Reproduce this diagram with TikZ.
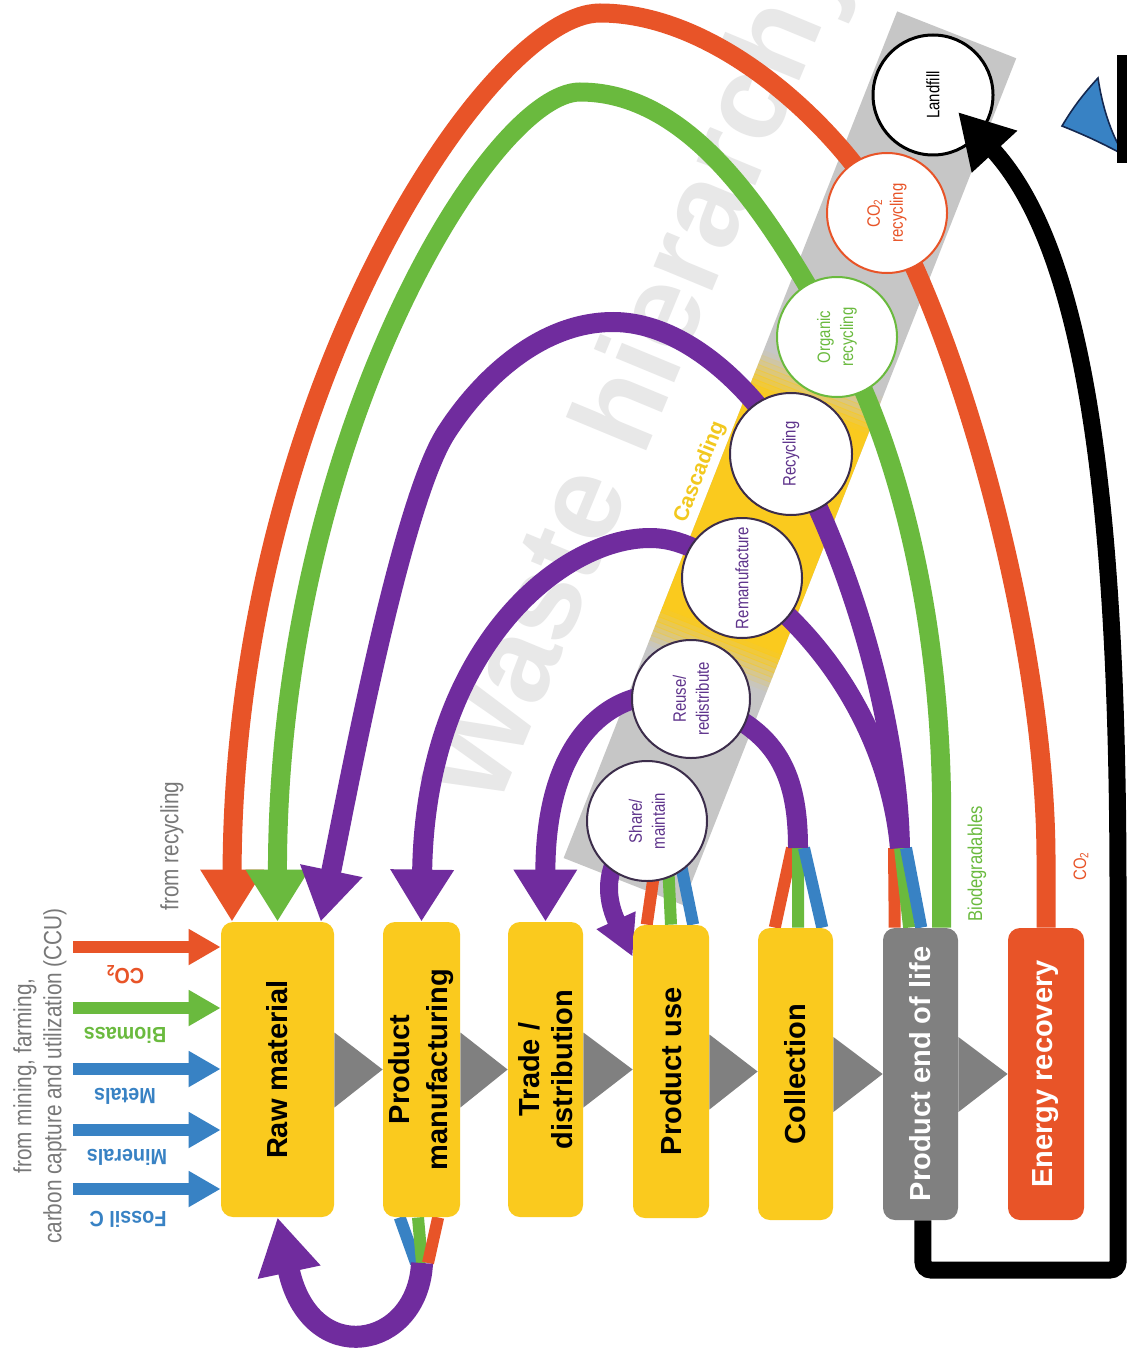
\documentclass[tikz,border=0pt]{standalone}
\usepackage{fontspec}
\setmainfont{Liberation Sans}
\newfontfamily\cond[FakeStretch=0.83]{Liberation Sans}
\newfontfamily\condb[FakeStretch=0.9]{Liberation Sans}
\usetikzlibrary{arrows.meta,calc}
\pgfdeclarelayer{back}
\pgfdeclarelayer{lines}
\pgfdeclarelayer{front}
\pgfsetlayers{back,lines,main,front}
\definecolor{cyel}{RGB}{250,202,30}
\definecolor{cred}{RGB}{232,84,40}
\definecolor{cgrn}{RGB}{106,186,62}
\definecolor{cblu}{RGB}{56,130,196}
\definecolor{cpur}{RGB}{112,44,158}
\definecolor{cgry}{RGB}{128,128,128}
\definecolor{cband}{RGB}{198,198,198}
\definecolor{ctxt}{RGB}{120,120,120}
\definecolor{cwm}{RGB}{232,232,232}
\definecolor{cptxt}{RGB}{95,52,140}
\definecolor{cdark}{RGB}{60,45,75}
\definecolor{cnavy}{RGB}{20,40,80}
\definecolor{ccasc}{RGB}{242,200,30}
\begin{document}
\begin{tikzpicture}[x=0.5pt,y=-0.5pt,
  boxbase/.style={rectangle, rounded corners=6pt, inner sep=0pt, draw=none},
  ybox/.style={boxbase, fill=cyel},
  blbl/.style={rotate=90, align=center, inner sep=0pt, font=\bfseries\fontsize{14.5}{17}\selectfont},
  circ/.style={circle, fill=white, draw=cdark, line width=1pt, inner sep=0pt, rotate=90, align=center, text=cptxt, font=\cond\fontsize{9}{11.5}\selectfont},
  arcln/.style={line width=9.5pt},
  bigtip/.style={-{Triangle[width=30pt,length=26pt]}},
  strand/.style={line width=6pt},
  inarr/.style={line width=6pt, -{Triangle[width=17pt,length=16pt]}},
  inlbl/.style={rotate=180, inner sep=0pt, font=\condb\bfseries\fontsize{11}{13}\selectfont},
  side/.style={rotate=90, inner sep=0pt, text=ctxt, align=center, font=\cond\fontsize{12.5}{15}\selectfont}
]
\useasboundingbox (0,0) rectangle (1127,1364);

% ---------- process boxes ----------
\node[ybox, minimum width=56.5pt, minimum height=147.5pt] (raw) at (277.5,1069.5) {};
\node[blbl] (rawt) at (raw.center) {Raw material};
\node[ybox, minimum width=38.5pt, minimum height=147.5pt] (pm) at (421.5,1069.5) {};
\node[blbl, font=\bfseries\fontsize{14.5}{19}\selectfont] (pmt) at (pm.center) {Product\\manufacturing};
\node[ybox, minimum width=37.5pt, minimum height=147.5pt] (trade) at (545.5,1069.5) {};
\node[blbl, font=\bfseries\fontsize{14.5}{16.5}\selectfont] (tradet) at (trade.center) {Trade /\\distribution};
\node[ybox, minimum width=38pt, minimum height=146.5pt] (use) at (671,1071.5) {};
\node[blbl] (uset) at (use.center) {Product use};
\node[ybox, minimum width=37.5pt, minimum height=146pt] (coll) at (795.5,1074) {};
\node[blbl] (collt) at (coll.center) {Collection};
\node[boxbase, fill=cgry, minimum width=37.5pt, minimum height=146pt] (eol) at (920.5,1074) {};
\node[blbl, text=white] (eolt) at (eol.center) {Product end of life};
\node[boxbase, fill=cred, minimum width=38pt, minimum height=146pt] (en) at (1046,1074) {};
\node[blbl, text=white] (ent) at (en.center) {Energy recovery};

% ---------- waste hierarchy circles ----------
\node[circ, minimum size=60pt] (share) at (647,821) {Share/\\maintain};
\node[circ, minimum size=59pt] (reuse) at (691,699) {Reuse/\\redistribute};
\node[circ, minimum size=60pt] (reman) at (742,578) {Remanufacture};
\node[circ, minimum size=61pt] (recyc) at (791,454) {Recycling};
\node[circ, minimum size=60pt, draw=cgrn, text=cgrn] (org) at (837,337) {Organic\\recycling};
\node[circ, minimum size=60pt, draw=cred, text=cred] (co2) at (887,213) {CO\textsubscript{2}\\recycling};
\node[circ, minimum size=60pt, draw=black, line width=1.5pt, text=black] (land) at (933,95) {Landfill};

% ---------- background: watermark and band ----------
\begin{pgfonlayer}{back}
\fill[white] (0,0) rectangle (1127,1364);
\node[rotate=67.5, anchor=west, text=cwm, inner sep=0pt, font=\bfseries\fontsize{60}{60}\selectfont] (wm) at (468,800) {Waste hierarchy};
\begin{scope}[shift={(647,821)}, rotate=68.5]
  \fill[cband] (-65,-64) rectangle (845,64);
  \fill[cyel] (204,-64) rectangle (441,64);
  \foreach \i [evaluate=\i as \op using (\i+0.5)/8] in {0,...,7} {
    \fill[cyel, opacity=\op] ({164+5*\i},-64) rectangle ({170+5*\i},64);
    \fill[cyel, opacity=\op] ({481-5*\i},-64) rectangle ({475-5*\i},64);
  }
\end{scope}
\node[rotate=68.5, text=ccasc, inner sep=0pt, font=\bfseries\fontsize{10.5}{12}\selectfont] (casc) at (700,472) {Cascading};
\end{pgfonlayer}

% ---------- flows ----------
\begin{pgfonlayer}{lines}
% grey process triangles
\fill[cgry] ($(raw.east)+(0,-37)$) -- ($(raw.east)+(0,38)$) -- (raw.east -| pm.west) -- cycle;
\fill[cgry] ($(pm.east)+(0,-37)$) -- ($(pm.east)+(0,38)$) -- (pm.east -| trade.west) -- cycle;
\fill[cgry] ($(trade.east)+(0,-37)$) -- ($(trade.east)+(0,38)$) -- (trade.east -| use.west) -- cycle;
\fill[cgry] ($(use.east)+(0,-37)$) -- ($(use.east)+(0,38)$) -- (use.east -| coll.west) -- cycle;
\fill[cgry] ($(coll.east)+(0,-37)$) -- ($(coll.east)+(0,38)$) -- (coll.east -| eol.west) -- cycle;
\fill[cgry] ($(eol.east)+(0,-37)$) -- ($(eol.east)+(0,38)$) -- (eol.east -| en.west) -- cycle;

\coordinate (mEol) at (900,848);
\coordinate (mColl) at (798,848);
\coordinate (mPm) at (422,1263);

% strands
\draw[strand, cred] (894,848) -- ($(eol.north west)!0.16!(eol.north east)$);
\draw[strand, cgrn] (900,848) -- ($(eol.north west)!0.35!(eol.north east)$);
\draw[strand, cblu] (906,848) -- ($(eol.north west)!0.51!(eol.north east)$);
\draw[strand, cred] (792,848) -- ($(coll.north west)!0.227!(coll.north east)$);
\draw[strand, cgrn] (798,848) -- ($(coll.north west)!0.533!(coll.north east)$);
\draw[strand, cblu] (804,848) -- ($(coll.north west)!0.853!(coll.north east)$);
\draw[strand, cred] (656,860) -- ($(use.north west)!0.184!(use.north east)$);
\draw[strand, cgrn] (668,862) -- ($(use.north west)!0.5!(use.north east)$);
\draw[strand, cblu] (680,860) -- ($(use.north west)!0.789!(use.north east)$);
\draw[strand, cblu] ($(pm.south west)!0.22!(pm.south east)$) -- (416,1263);
\draw[strand, cgrn] ($(pm.south west)!0.455!(pm.south east)$) -- (422,1263);
\draw[strand, cred] ($(pm.south west)!0.714!(pm.south east)$) -- (428,1263);

% big arcs
\draw[arcln, cred, bigtip] (en.north) -- (1046,860) .. controls (1046,640) and (960,340) .. (co2.center)
  .. controls (840,130) and (720,13) .. (600,13) .. controls (487,13) and (233,399) .. ($(raw.north west)!0.1!(raw.north east)$);
\draw[arcln, cgrn, bigtip] ($(eol.north west)!0.78!(eol.north east)$) -- ++(0,-108) .. controls (942,600) and (890,430) .. (org.center)
  .. controls (780,237) and (700,92) .. (580,92) .. controls (490,92) and (277,440) .. (raw.north);
\draw[line width=10pt, cpur, bigtip] (mEol) .. controls (898,720) and (850,560) .. (recyc.center)
  .. controls (760,398) and (690,322) .. (613,322) .. controls (540,322) and (480,380) .. (446,433)
  .. controls (400,505) and (346,800) .. ($(raw.north west)!0.88!(raw.north east)$);
\draw[line width=10pt, cpur, bigtip] (mEol) .. controls (890,740) and (830,640) .. (reman.center)
  .. controls (705,552) and (680,538) .. (650,538) .. controls (560,538) and (425,650) .. (pm.north);
\draw[line width=10pt, cpur, bigtip] (mColl) .. controls (798,770) and (775,725) .. (reuse.center)
  .. controls (630,680) and (545,720) .. (trade.north);
\draw[line width=9pt, cpur, -{Triangle[width=20pt,length=20pt]}] (share.center) .. controls (610,852) and (600,885) .. ($(use.north west)+(0,32)$);
\draw[line width=11pt, cpur, -{Triangle[width=30pt,length=28pt]}] (mPm) .. controls (418,1350) and (310,1370) .. (raw.south);
\end{pgfonlayer}

% ---------- inputs ----------
\coordinate (iCO) at (73,947);
\coordinate (iBio) at (73,1008);
\coordinate (iMet) at (73,1069);
\coordinate (iMin) at (73,1130);
\coordinate (iFos) at (73,1189);
\draw[inarr, cred] (iCO) -- (iCO -| raw.west);
\draw[inarr, cgrn] (iBio) -- (iBio -| raw.west);
\draw[inarr, cblu] (iMet) -- (iMet -| raw.west);
\draw[inarr, cblu] (iMin) -- (iMin -| raw.west);
\draw[inarr, cblu] (iFos) -- (iFos -| raw.west);
\node[inlbl, text=cred] (lCO) at (125,975) {CO\textsubscript{2}};
\node[inlbl, text=cgrn] (lBio) at (125,1035) {Biomass};
\node[inlbl, text=cblu] (lMet) at (125,1096) {Metals};
\node[inlbl, text=cblu] (lMin) at (127,1157) {Minerals};
\node[inlbl, text=cblu] (lFos) at (128,1219) {Fossil C};

\node[side] (hdr) at (40,1076) {from mining, farming,\\carbon capture and utilization (CCU)};
\node[side] (frec) at (172,846) {from recycling};
\node[rotate=90, inner sep=0pt, text=cgrn, font=\cond\fontsize{10}{12}\selectfont] (bio) at (977,864) {Biodegradables};
\node[rotate=90, inner sep=0pt, text=cred, font=\cond\fontsize{9}{11}\selectfont] (eco) at (1081,866) {CO\textsubscript{2}};

% ---------- landfill route ----------
\begin{pgfonlayer}{front}
\draw[line width=8.5pt, black, rounded corners=4pt, -{Triangle[width=29pt,length=27pt]}]
  ($(eol.south west)!0.53!(eol.south east)$) -- (923,1270) -- (1118,1270) -- (1118,900)
  .. controls (1118,500) and (1085,250) .. ($(land.center)+(25,17)$);
\filldraw[fill=cblu, draw=cnavy, line width=0.8pt] (1062,126) .. controls (1075,104) and (1087,90) .. (1098,78)
  .. controls (1102,105) and (1110,132) .. (1124,155) .. controls (1100,142) and (1082,134) .. cycle;
\fill[black] (1117,55) rectangle (1127,163);
\end{pgfonlayer}
\end{tikzpicture}
\end{document}
